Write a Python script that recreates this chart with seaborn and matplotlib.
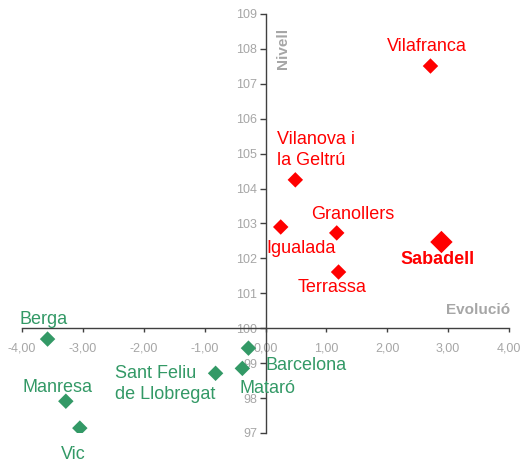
import matplotlib
matplotlib.use("Agg")
import matplotlib.pyplot as plt
import seaborn as sns
import pandas as pd
from matplotlib.ticker import FuncFormatter

# Data
cities = ["Vilafranca", "Vilanova i\nla Geltrú", "Igualada", "Granollers", "Sabadell", "Terrassa",
          "Berga", "Barcelona", "Mataró", "Sant Feliu\nde Llobregat", "Manresa", "Vic"]
evolucio = [2.71, 0.49, 0.25, 1.17, 2.89, 1.20, -3.58, -0.28, -0.38, -0.82, -3.28, -3.05]
nivell = [107.51, 104.25, 102.90, 102.73, 102.47, 101.61, 99.69, 99.43, 98.85, 98.71, 97.91, 97.14]
group = ["up", "up", "up", "up", "up", "up", "down", "down", "down", "down", "down", "down"]
highlight = [False, False, False, False, True, False, False, False, False, False, False, False]
x_ticks = [-4, -3, -2, -1, 0, 1, 2, 3, 4]
y_ticks = list(range(97, 110))

# Label offsets (pixels)
offsets = [(-4, 20), (21, 30), (20, -22), (16, 18), (-4, -17), (-6, -15),
           (-4, 20), (58, -17), (25, -20), (-50, -10.5), (-8, 14), (-7, -26)]

RED = "#FF0000"
GREEN = "#339966"
GRAY = "#A6A6A6"
SPINE = "#404040"

sns.set_style("white")
plt.rcParams['font.family'] = ['Liberation Sans', 'DejaVu Sans']

df = pd.DataFrame({"city": cities, "x": evolucio, "y": nivell, "group": group,
                   "big": ["big" if h else "normal" for h in highlight]})

fig = plt.figure(figsize=(5.28, 4.61), dpi=100)
ax = fig.add_axes([22/528, 28/461, (509-22)/528, (433-14)/461])

sns.scatterplot(data=df, x="x", y="y", hue="group", palette={"up": RED, "down": GREEN},
                size="big", sizes={"normal": 62, "big": 130}, marker="D", linewidth=0,
                legend=False, ax=ax, zorder=3)

ax.set_xlim(-4, 4)
ax.set_ylim(97, 109)
ax.set_xticks(x_ticks)
ax.set_yticks(y_ticks)
ax.xaxis.set_major_formatter(FuncFormatter(lambda v, p: f"{v:.2f}".replace(".", ",")))
ax.yaxis.set_major_formatter(FuncFormatter(lambda v, p: f"{int(v)}"))
ax.set_xlabel("")
ax.set_ylabel("")

for s in ["top", "right"]:
    ax.spines[s].set_visible(False)
ax.spines["left"].set_position(("data", 0))
ax.spines["bottom"].set_position(("data", 100))
for s in ["left", "bottom"]:
    ax.spines[s].set_color(SPINE)
    ax.spines[s].set_linewidth(1.0)

ax.tick_params(axis="x", direction="out", length=3, width=1, color=SPINE,
               labelcolor=GRAY, labelsize=9, pad=7)
ax.tick_params(axis="y", direction="out", length=4, width=1, color=SPINE,
               labelcolor=GRAY, labelsize=9, pad=2)
ax.tick_params(left=True, bottom=True)

for c, xv, yv, g, h, off in zip(cities, evolucio, nivell, group, highlight, offsets):
    ax.annotate(c, (xv, yv), xytext=off, textcoords="offset pixels",
                ha="center", va="center", multialignment="left", linespacing=1.3,
                color=RED if g == "up" else GREEN, fontsize=13,
                fontweight="bold" if h else "normal", zorder=4)

fig.text(510/528, 1 - 310/461, "Evolució", ha="right", va="center",
         color=GRAY, fontsize=11, fontweight="bold")
fig.text(283/528, 1 - 48/461, "Nivell", ha="center", va="center", rotation=90,
         color=GRAY, fontsize=11, fontweight="bold")

fig.savefig("out.png", dpi=100)
